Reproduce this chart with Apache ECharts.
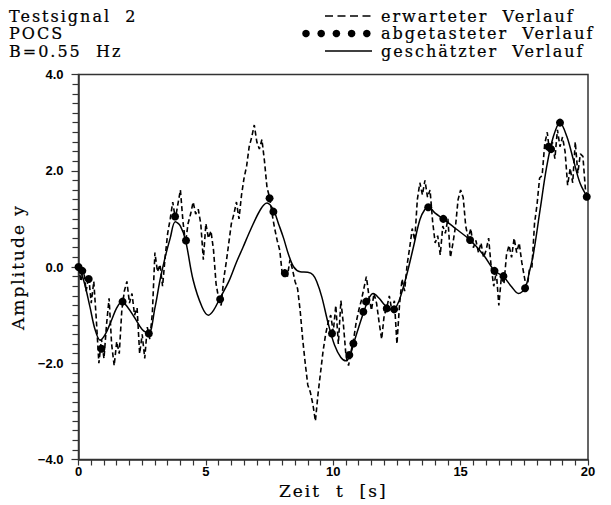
<!DOCTYPE html>
<html>
<head>
<meta charset="utf-8">
<style>
  html, body { margin: 0; padding: 0; background: #fff; }
  #chart { width: 611px; height: 505px; }
  /* wider tracking for the serif captions */
  #chart text[style*="DejaVu Serif"] { letter-spacing: 2px; }
</style>
<script src="https://cdn.jsdelivr.net/npm/echarts@6/dist/echarts.min.js"></script>
</head>
<body>
<div id="chart"></div>
<script>
// Expected signal, sampled every 0.1 s from 0 to 20 s
const expectedStart = 0;
const expectedStep = 0.1;
const expectedValues = [
  0.0, -0.3, -0.05, -0.5, -0.2, -0.75, -0.3, -1.1, -2.0, -1.5,
  -1.9, -1.2, -0.65, -1.6, -2.05, -1.55, -1.8, -0.9, -0.5, -0.3,
  -0.75, -0.55, -1.0, -0.85, -1.8, -1.4, -1.9, -1.25, -1.5, -0.95,
  0.3, -0.1, 0.05, -0.4, 0.2, 0.7, 1.0, 1.35, 1.0, 1.3,
  1.6, 0.95, 0.5, 0.9, 1.1, 1.35, 1.1, 1.2, 0.9, 0.15,
  0.9, 0.6, 0.75, 0.35, -0.35, -0.65, -0.8, -0.25, 0.1, 0.5,
  0.9, 1.1, 1.35, 1.0, 1.5, 1.85, 2.1, 2.5, 2.7, 2.95,
  2.6, 2.45, 2.65, 2.2, 1.65, 1.45, 1.1, 0.8, 0.55, 0.35,
  -0.15, -0.05, -0.2, 0.15, -0.05, -0.3, -0.45, -0.9, -1.5, -2.0,
  -2.45, -2.6, -2.85, -3.2, -2.65, -2.2, -1.75, -1.4, -1.15, -1.0,
  -1.35, -0.8, -1.6, -0.7, -1.2, -1.85, -2.05, -1.75, -1.5, -1.15,
  -0.9, -0.7, -0.45, -0.2, -0.6, -0.9, -0.55, -0.75, -1.15, -1.5,
  -1.0, -0.85, -0.6, -0.9, -0.7, -1.6, -0.8, -0.25, -0.5, 0.05,
  0.4, 0.8, 0.55, 1.4, 1.75, 1.5, 1.8, 1.45, 1.6, 0.95,
  0.5, 0.65, 0.25, 0.85, 0.7, 1.0, 0.2, 0.5, 0.85, 1.4,
  1.6, 1.45, 0.85, 0.6, 0.8, 0.4, 0.55, 0.3, 0.5, 0.2,
  0.35, 0.6, 0.0, -0.4, -0.1, -0.8, -0.2, -0.35, 0.25, 0.45,
  0.2, 0.6, 0.3, 0.5, 0.1, -0.2, -0.5, -0.05, 0.0, 0.9,
  1.3, 1.85, 1.9, 2.55, 2.8, 2.35, 2.6, 2.25, 2.85, 2.5,
  2.7, 2.4, 1.7, 2.05, 1.75, 2.6, 1.95, 2.35, 2.3, 1.6,
  1.45
];

// Sampled points (time, amplitude)
const sampleTimes = [0.0, 0.15, 0.4, 0.9, 1.73, 2.76, 3.79, 4.22, 5.56, 7.5, 7.65, 8.1,
  9.95, 10.63, 10.79, 11.18, 11.29, 12.1, 12.39, 13.73, 14.32, 15.37, 16.33, 16.68,
  17.53, 18.45, 18.55, 18.9, 19.95];
const sampleValues = [0.0, -0.08, -0.25, -1.7, -0.72, -1.38, 1.05, 0.55, -0.67, 1.43, 1.15, -0.13,
  -1.38, -1.83, -1.59, -0.93, -0.72, -0.86, -0.88, 1.24, 1.0, 0.56, -0.08, -0.19,
  -0.44, 2.5, 2.45, 3.0, 1.46];

// Reconstructed (estimated) curve
const estimateTimes = [0, 0.2, 0.45, 0.65, 0.85, 1.05, 1.3, 1.5, 1.7, 1.95, 2.2, 2.5, 2.75,
  3.0, 3.2, 3.4, 3.6, 3.8, 4.0, 4.2, 4.5, 4.85, 5.1, 5.3, 5.55, 5.9, 6.2, 6.45, 6.75,
  7.15, 7.4, 7.65, 7.85, 8.05, 8.25, 8.45, 8.7, 9.0, 9.2, 9.35, 9.55, 9.8, 10.05, 10.3,
  10.5, 10.65, 10.8, 11.0, 11.2, 11.4, 11.57, 11.8, 12.0, 12.2, 12.35, 12.5, 12.65, 12.9,
  13.15, 13.4, 13.6, 13.75, 14.0, 14.32, 14.8, 15.37, 15.9, 16.33, 16.68, 17.0, 17.27,
  17.53, 17.7, 17.86, 18.12, 18.38, 18.64, 18.9, 19.17, 19.43, 19.69, 20.0];
const estimateValues = [0.0, -0.27, -0.83, -1.3, -1.52, -1.4, -1.1, -0.85, -0.72, -0.85, -1.05, -1.3, -1.38,
  -0.85, -0.27, 0.2, 0.6, 0.94, 0.85, 0.56, -0.27, -0.83, -1.0, -0.9, -0.65, -0.3, 0.1, 0.4, 0.77,
  1.2, 1.33, 1.19, 0.9, 0.6, 0.25, 0.0, -0.1, -0.11, -0.16, -0.3, -0.62, -1.17, -1.62, -1.88,
  -1.95, -1.85, -1.59, -1.25, -0.93, -0.65, -0.55, -0.65, -0.78, -0.87, -0.89, -0.8, -0.6, -0.13,
  0.42, 0.98, 1.2, 1.24, 1.12, 1.0, 0.8, 0.56, 0.25, -0.08, -0.2, -0.41, -0.55,
  -0.44, -0.1, 0.28, 1.19, 2.09, 2.71, 3.0, 2.71, 2.22, 1.74, 1.43];

// Axis ranges and tick steps
const xRange = [0, 20];
const xMajor = 5;
const yRange = [-4, 4];
const yMajor = 2;

const headerLines = ['Testsignal  2', 'POCS', 'B=0.55  Hz'];
const legendLabels = ['erwarteter  Verlauf', 'abgetasteter  Verlauf', 'geschätzter  Verlauf'];
const xTitle = 'Zeit  t  [s]';
const yTitle = 'Amplitude y';

const expectedData = expectedValues.map((v, i) => [+(expectedStart + i * expectedStep).toFixed(2), v]);
const sampleData = sampleTimes.map((t, i) => [t, sampleValues[i]]);
const estimateData = estimateTimes.map((t, i) => [t, estimateValues[i]]);

const serif = '"DejaVu Serif", serif';
const ink = '#000';

const chart = echarts.init(document.getElementById('chart'), null, { renderer: 'svg' });

const graphics = [];
const rowMid = [16, 33.5, 51];
const captionStyle = s => ({
  text: s, font: '16px ' + serif, fill: ink,
  stroke: ink, lineWidth: 0.2, verticalAlign: 'middle'
});
headerLines.forEach((s, i) => {
  graphics.push({ type: 'text', x: 9, y: rowMid[i], style: captionStyle(s) });
});
legendLabels.forEach((s, i) => {
  graphics.push({ type: 'text', x: 381, y: rowMid[i], style: captionStyle(s) });
});
// legend marks: dashed line, row of dots, solid line
graphics.push({
  type: 'line', shape: { x1: 325, y1: rowMid[0], x2: 371, y2: rowMid[0] },
  style: { stroke: ink, lineWidth: 1.4, lineDash: [8, 4.5] }
});
for (let k = 0; k < 5; k++) {
  graphics.push({
    type: 'circle', shape: { cx: 306 + k * 15.2, cy: rowMid[1], r: 3.8 },
    style: { fill: ink }
  });
}
graphics.push({
  type: 'line', shape: { x1: 325, y1: rowMid[2], x2: 372, y2: rowMid[2] },
  style: { stroke: ink, lineWidth: 1.5 }
});

const fmtY = v => (v < 0 ? '\u2212' : '') + Math.abs(v).toFixed(1);
const titleText = { fontFamily: 'DejaVu Serif', fontSize: 17, color: ink, textBorderColor: ink, textBorderWidth: 0.2 };

chart.setOption({
  animation: false,
  backgroundColor: '#fff',
  grid: {
    left: 78.5, right: 23, top: 74.5, bottom: 45.5,
    show: true, borderColor: '#333', borderWidth: 1.5, backgroundColor: 'transparent'
  },
  xAxis: {
    type: 'value', min: xRange[0], max: xRange[1], interval: xMajor,
    name: xTitle, nameLocation: 'middle', nameGap: 22,
    nameTextStyle: titleText,
    axisLine: { show: true, onZero: false, lineStyle: { color: '#333', width: 1.5 } },
    axisTick: { show: true, inside: false, length: 6, lineStyle: { color: '#333', width: 1.2 } },
    minorTick: { show: true, splitNumber: 10, length: 6, lineStyle: { color: '#333', width: 1.2 } },
    splitLine: { show: false },
    axisLabel: { color: ink, fontFamily: 'Liberation Sans', fontWeight: 'bold', fontSize: 13, margin: 5 }
  },
  yAxis: {
    type: 'value', min: yRange[0], max: yRange[1], interval: yMajor,
    name: yTitle, nameLocation: 'middle', nameGap: 44, nameRotate: 90,
    nameTextStyle: titleText,
    axisLine: { show: true, onZero: false, lineStyle: { color: '#333', width: 1.5 } },
    axisTick: { show: true, inside: false, length: 7, lineStyle: { color: '#333', width: 1.2 } },
    minorTick: { show: true, splitNumber: 10, length: 6, lineStyle: { color: '#333', width: 1.2 } },
    splitLine: { show: false },
    axisLabel: { color: ink, fontFamily: 'Liberation Sans', fontWeight: 'bold', fontSize: 13, margin: 15, formatter: fmtY }
  },
  graphic: graphics,
  series: [
    {
      name: 'erwarteter Verlauf', type: 'line', data: expectedData,
      showSymbol: false, smooth: false,
      lineStyle: { color: ink, width: 1.6, type: [5, 3] }, z: 2
    },
    {
      name: 'geschätzter Verlauf', type: 'line', data: estimateData,
      showSymbol: false, smooth: 0.35,
      lineStyle: { color: ink, width: 1.5 }, z: 3
    },
    {
      name: 'abgetasteter Verlauf', type: 'scatter', data: sampleData,
      symbol: 'circle', symbolSize: 8,
      itemStyle: { color: ink, opacity: 1 }, z: 4
    }
  ]
});
</script>
</body>
</html>
